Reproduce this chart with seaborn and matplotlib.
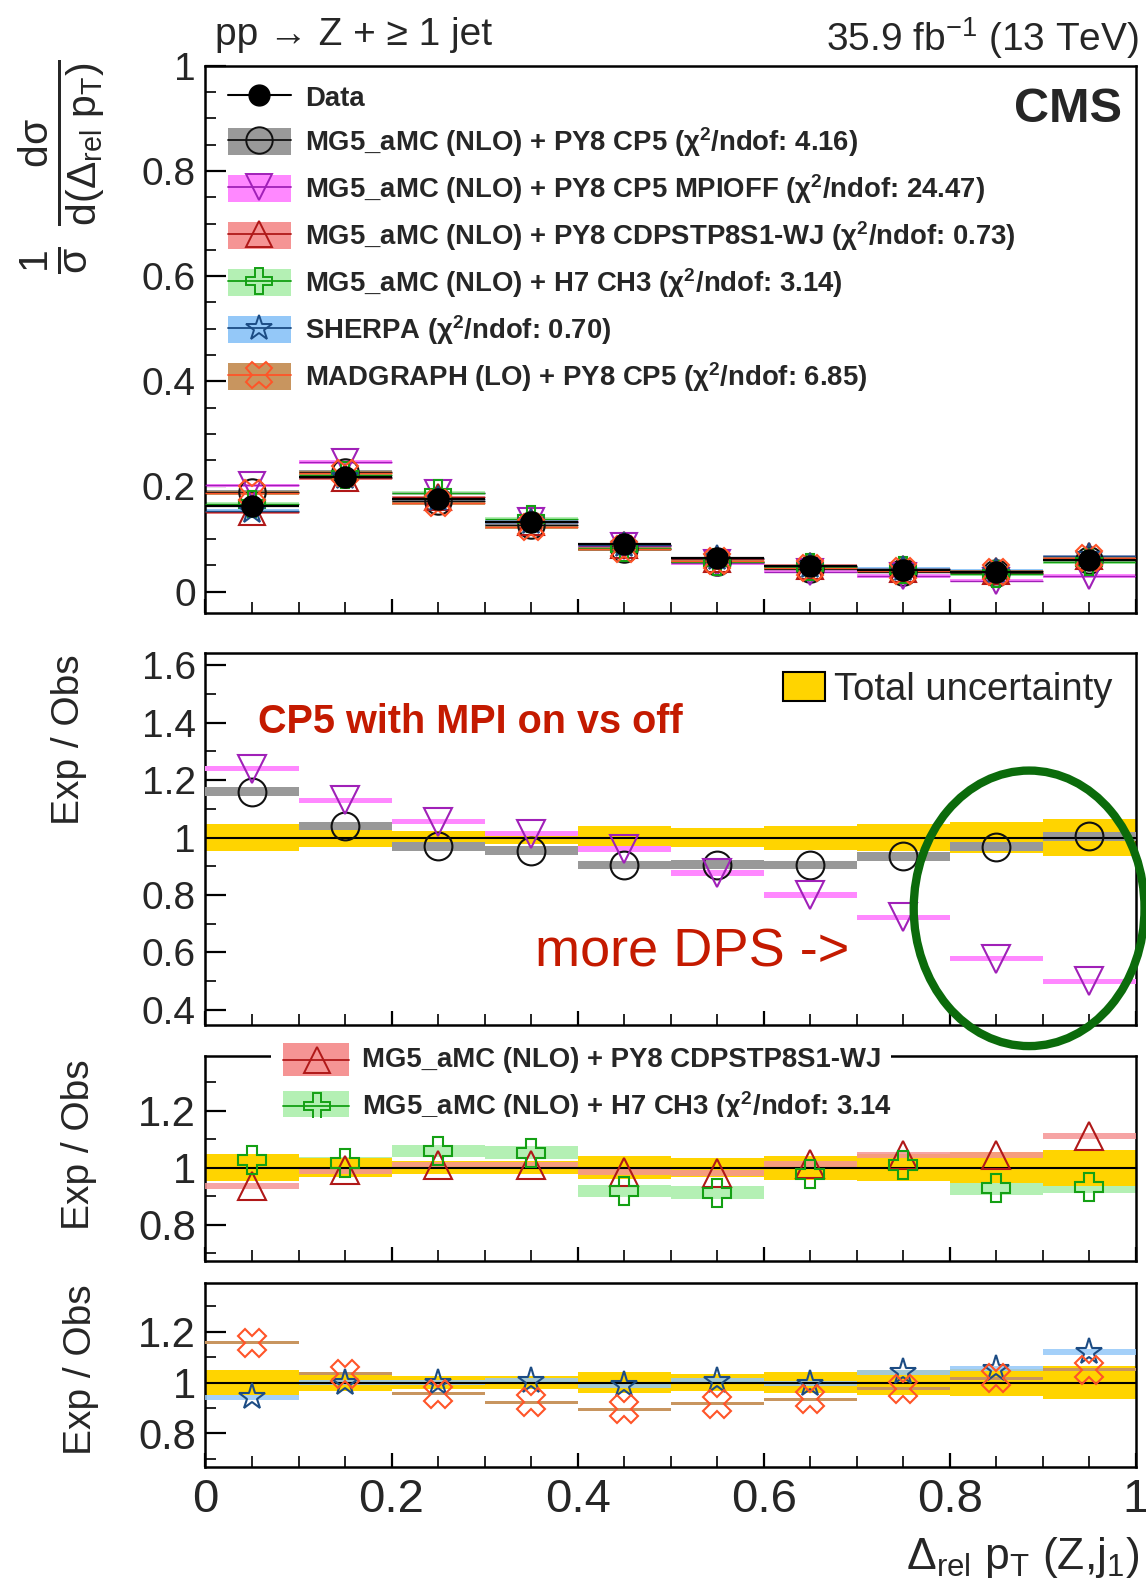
import matplotlib
matplotlib.use("Agg")
import matplotlib.pyplot as plt
import seaborn as sns
from matplotlib.patches import Patch, Ellipse, Rectangle
from matplotlib.lines import Line2D
from matplotlib.ticker import MultipleLocator, FuncFormatter

# bins of Delta_rel pT(Z, j1)
bin_lo = [0.0, 0.1, 0.2, 0.3, 0.4, 0.5, 0.6, 0.7, 0.8, 0.9]
bin_hi = [0.1, 0.2, 0.3, 0.4, 0.5, 0.6, 0.7, 0.8, 0.9, 1.0]
bin_mid = [0.05, 0.15, 0.25, 0.35, 0.45, 0.55, 0.65, 0.75, 0.85, 0.95]

# normalised cross section (top panel)
data = [0.163, 0.218, 0.177, 0.132, 0.090, 0.063, 0.048, 0.041, 0.037, 0.060]
cp5 = [0.189, 0.227, 0.172, 0.126, 0.081, 0.057, 0.043, 0.038, 0.036, 0.060]
mpioff = [0.202, 0.246, 0.187, 0.134, 0.086, 0.055, 0.038, 0.030, 0.021, 0.030]
cdps = [0.152, 0.216, 0.179, 0.133, 0.089, 0.062, 0.049, 0.043, 0.039, 0.067]
h7 = [0.167, 0.221, 0.187, 0.139, 0.083, 0.057, 0.047, 0.041, 0.034, 0.056]
sherpa = [0.154, 0.218, 0.177, 0.133, 0.089, 0.063, 0.048, 0.043, 0.039, 0.067]
mglo = [0.188, 0.226, 0.169, 0.122, 0.081, 0.058, 0.045, 0.040, 0.038, 0.063]

# Exp / Obs ratios
r_cp5 = [1.16, 1.04, 0.97, 0.955, 0.904, 0.906, 0.905, 0.935, 0.968, 1.004]
r_mpioff = [1.24, 1.13, 1.055, 1.013, 0.96, 0.877, 0.80, 0.723, 0.579, 0.50]
r_cdps = [0.935, 0.99, 1.01, 1.008, 0.985, 0.98, 1.013, 1.045, 1.043, 1.11]
r_h7 = [1.025, 1.015, 1.058, 1.052, 0.918, 0.912, 0.978, 1.01, 0.928, 0.932]
r_sherpa = [0.942, 1.0, 1.0, 1.006, 0.99, 1.007, 0.995, 1.04, 1.055, 1.12]
r_mglo = [1.156, 1.035, 0.956, 0.922, 0.895, 0.916, 0.934, 0.975, 1.017, 1.05]
tot_unc = [0.048, 0.032, 0.024, 0.024, 0.04, 0.032, 0.042, 0.048, 0.053, 0.063]

labels = [
    "Data",
    r"MG5_aMC (NLO) + PY8 CP5 ($\chi^{2}$/ndof: 4.16)",
    r"MG5_aMC (NLO) + PY8 CP5 MPIOFF ($\chi^{2}$/ndof: 24.47)",
    r"MG5_aMC (NLO) + PY8 CDPSTP8S1-WJ ($\chi^{2}$/ndof: 0.73)",
    r"MG5_aMC (NLO) + H7 CH3 ($\chi^{2}$/ndof: 3.14)",
    r"SHERPA ($\chi^{2}$/ndof: 0.70)",
    r"MADGRAPH (LO) + PY8 CP5 ($\chi^{2}$/ndof: 6.85)",
]

# (band colour, line/marker colour, marker)
sty_cp5 = ("#999999", "#111111", "o")
sty_mpi = ("#ff88ff", "#a020b8", "v")
sty_cdps = ("#f59494", "#b01818", "^")
sty_h7 = ("#b4f0b4", "#14a014", "P")
sty_sh = ("#94c8f8", "#1c4c84", "*")
sty_mg = ("#c8955f", "#ff5428", "X")
yellow = "#ffd400"

sns.set_style("ticks")
plt.rcParams["font.family"] = ["Liberation Sans", "DejaVu Sans"]
plt.rcParams["mathtext.fontset"] = "custom"
plt.rcParams["mathtext.rm"] = "Liberation Sans"
plt.rcParams["mathtext.it"] = "Liberation Sans:italic"
plt.rcParams["mathtext.bf"] = "Liberation Sans:bold"
plt.rcParams["mathtext.default"] = "regular"

fig = plt.figure(figsize=(11.46, 15.88), dpi=100)
L, W = 0.1793, 0.8118
ax1 = fig.add_axes([L, 0.6142, W, 0.3444])
ax2 = fig.add_axes([L, 0.3546, W, 0.2341])
ax3 = fig.add_axes([L, 0.2060, W, 0.1288])
ax4 = fig.add_axes([L, 0.0765, W, 0.1154])

fmt = FuncFormatter(lambda v, p: f"{v:g}")


def style(ax, ylim, ymaj, ymin, ysize):
    ax.set_xlim(0, 1)
    ax.set_ylim(*ylim)
    ax.xaxis.set_major_locator(MultipleLocator(0.2))
    ax.xaxis.set_minor_locator(MultipleLocator(0.05))
    ax.yaxis.set_major_locator(MultipleLocator(ymaj))
    ax.yaxis.set_minor_locator(MultipleLocator(ymin))
    ax.xaxis.set_major_formatter(fmt)
    ax.yaxis.set_major_formatter(fmt)
    ax.tick_params(which="both", direction="in", top=False, right=False, color="k")
    ax.tick_params(which="major", length=15, width=1.6, labelsize=ysize, pad=7)
    ax.tick_params(which="minor", length=8, width=1.2)
    ax.tick_params(axis="x", which="major", length=10)
    ax.tick_params(axis="x", labelbottom=False)
    for s in ax.spines.values():
        s.set_visible(True)
        s.set_linewidth(1.8)
        s.set_color("k")


def band(ax, vals, h, color, z, alpha=1.0):
    ax.bar(bin_mid, [h] * len(vals), width=0.1, bottom=[v - h / 2 for v in vals],
           color=color, alpha=alpha, lw=0, zorder=z)


def markers(ax, vals, sty, ms=20, z=6):
    ax.plot(bin_mid, vals, ls="none", marker=sty[2], ms=ms, mfc="none",
            mec=sty[1], mew=1.5, zorder=z)


def total_band(ax):
    ax.bar(bin_mid, [2 * u for u in tot_unc], width=0.1,
           bottom=[1 - u for u in tot_unc], color=yellow, lw=0, zorder=2)


# ---- top panel
style(ax1, (-0.04, 1.0), 0.2, 0.05, 28)
for vals, sty in [(cp5, sty_cp5), (mpioff, sty_mpi), (cdps, sty_cdps),
                  (h7, sty_h7), (sherpa, sty_sh), (mglo, sty_mg)]:
    band(ax1, vals, 0.007, sty[0], 2)
    ax1.hlines(vals, bin_lo, bin_hi, color=sty[1], lw=1.0, zorder=3)
    markers(ax1, vals, sty, ms=19)
ax1.hlines(data, bin_lo, bin_hi, color="k", lw=1.6, zorder=7)
sns.scatterplot(x=bin_mid, y=data, color="k", s=15 ** 2, edgecolor="k",
                zorder=8, ax=ax1, legend=False)

handles = [Line2D([], [], color="k", lw=1.5, marker="o", ms=15)]
for sty in [sty_cp5, sty_mpi, sty_cdps, sty_h7, sty_sh, sty_mg]:
    handles.append((Patch(fc=sty[0], ec="none"),
                    Line2D([], [], color=sty[1], lw=1.3, marker=sty[2], ms=19,
                           mfc="none", mec=sty[1], mew=1.4)))
ax1.legend(handles, labels, loc="upper left", bbox_to_anchor=(0.024, 0.968),
           frameon=False, prop={"size": 19.8, "weight": "bold"}, handlelength=2.3,
           handleheight=1.1, handletextpad=0.5, labelspacing=0.48,
           borderaxespad=0, borderpad=0)
ax1.text(0.985, 0.92, "CMS", transform=ax1.transAxes, ha="right", va="center",
         fontsize=35, weight="bold")

# ---- ratio: CP5 MPI on / off
style(ax2, (0.348, 1.642), 0.2, 0.1, 28)
total_band(ax2)
band(ax2, r_cp5, 0.03, sty_cp5[0], 3)
band(ax2, r_mpioff, 0.018, sty_mpi[0], 3)
ax2.axhline(1, color="k", lw=1.5, zorder=4)
markers(ax2, r_cp5, sty_cp5)
markers(ax2, r_mpioff, sty_mpi)
ax2.legend([Patch(fc=yellow, ec="k", lw=1.5)], ["Total uncertainty"],
           loc="upper right", bbox_to_anchor=(0.975, 0.95), frameon=False,
           fontsize=27.5, handlelength=1.1, handleheight=0.8, handletextpad=0.25,
           borderaxespad=0, borderpad=0)
ax2.text(0.0566, 0.815, "CP5 with MPI on vs off", transform=ax2.transAxes,
         color="#c41a00", fontsize=28.5, weight="bold", va="center")
ax2.text(0.354, 0.196, "more DPS ->", transform=ax2.transAxes,
         color="#c41a00", fontsize=39, va="center")

# ---- ratio: CDPS and H7
style(ax3, (0.673, 1.39), 0.2, 0.1, 30)
band(ax3, r_h7, 0.045, sty_h7[0], 1)
total_band(ax3)
band(ax3, r_cdps, 0.022, sty_cdps[0], 3, alpha=0.85)
ax3.axhline(1, color="k", lw=1.5, zorder=4)
markers(ax3, r_cdps, sty_cdps)
markers(ax3, r_h7, sty_h7)

# ---- ratio: SHERPA and MG LO
style(ax4, (0.67, 1.39), 0.2, 0.1, 30)
total_band(ax4)
band(ax4, r_sherpa, 0.02, sty_sh[0], 3, alpha=0.85)
band(ax4, r_mglo, 0.012, sty_mg[0], 3)
ax4.axhline(1, color="k", lw=1.5, zorder=4)
markers(ax4, r_sherpa, sty_sh)
markers(ax4, r_mglo, sty_mg)
ax4.tick_params(axis="x", labelbottom=True, labelsize=34, pad=8)

# pasted legend over the third panel (cut at the bottom)
axl = fig.add_axes([268 / 1132, 1 - 1103 / 1568, 612 / 1132, 81 / 1568])
axl.set_zorder(5)
axl.set_xlim(0, 1)
axl.set_ylim(0, 1)
axl.set_facecolor("white")
axl.set_xticks([])
axl.set_yticks([])
for s in axl.spines.values():
    s.set_visible(False)
for yc, y0, hh, sty, lab in [(0.70, 0.506, 0.394, sty_cdps, "MG5_aMC (NLO) + PY8 CDPSTP8S1-WJ"),
                             (0.136, -0.1, 0.42, sty_h7, r"MG5_aMC (NLO) + H7 CH3 ($\chi^{2}$/ndof: 3.14")]:
    axl.add_patch(Rectangle((0.0196, y0), 0.106, hh, fc=sty[0], ec="none"))
    axl.plot([0.0196, 0.126], [yc, yc], color=sty[1], lw=1.3)
    axl.plot([0.073], [yc], marker=sty[2], ms=19, mfc="none", mec=sty[1], mew=1.4)
    axl.text(0.147, yc, lab, va="center", fontsize=19.8, weight="bold", clip_on=True)

# axis titles and header
fig.text(61 / 1132, 1 - 165 / 1568,
         r"$\frac{1}{\sigma}\ \frac{d\sigma}{d(\Delta_{rel}\ p_{T})}$",
         rotation=90, ha="center", va="center", fontsize=42)
for yy, xx in [(730, 68), (1130, 78), (1352, 80)]:
    fig.text(xx / 1132, 1 - yy / 1568, "Exp / Obs", rotation=90, ha="center",
             va="center", fontsize=28)
fig.text(1125 / 1132, 1 - 1538 / 1568, r"Δ$_{rel}$ p$_{T}$ (Z,j$_{1}$)",
         ha="right", va="center", fontsize=32)
fig.text(212 / 1132, 1 - 35 / 1568, "pp → Z + ≥ 1 jet", fontsize=28,
         ha="left", va="center")
fig.text(1125 / 1132, 1 - 38 / 1568, r"35.9 fb$^{-1}$ (13 TeV)", fontsize=28,
         ha="right", va="center")

# hand-drawn highlight
fig.add_artist(Ellipse((0.898, 0.428), 0.2014, 0.1735, transform=fig.transFigure,
                       fill=False, ec="#0b6b0b", lw=6, zorder=20))

fig.savefig("out.png", dpi=100)
